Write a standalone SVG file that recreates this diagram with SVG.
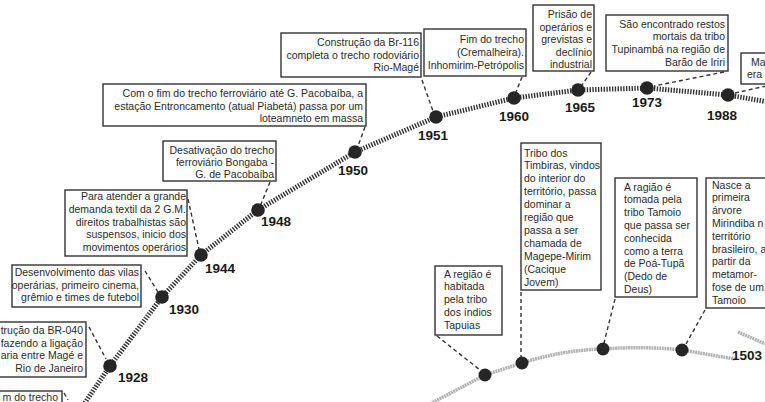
<svg xmlns="http://www.w3.org/2000/svg" width="765" height="402" viewBox="0 0 765 402">
<style>
.bg{fill:#fff}
.box{fill:#fff;stroke:#333;stroke-width:1.4}
.t{font-family:"Liberation Sans",Arial,sans-serif;font-size:10.5px;fill:#2a2a2a}
.r{text-anchor:end}
.yr{font-family:"Liberation Sans",Arial,sans-serif;font-size:13.5px;font-weight:bold;fill:#1a1a1a}
.rail{fill:none;stroke:#333;stroke-width:5;stroke-dasharray:1.4 1.4}
.grey{fill:none;stroke:#b3b3b3;stroke-width:3.5;stroke-dasharray:2 0.6}
.dash{fill:none;stroke:#333;stroke-width:1.4;stroke-dasharray:4 3}
.node{fill:#262626}
</style>
<rect class="bg" x="0" y="0" width="765" height="402"/>
<g id="connectors">
<polyline class="rail" points="80,410 110,366 162,297 201,255 258,210 355,152 436,117 514,98 578,90 647,88 728,95 768,102"/>
<path class="grey" d="M428,405 L485,375 L522,363 Q562,350 603,349 Q645,346 682,350 L735,359"/>
<path class="grey" d="M738,332 L768,345"/>
<line class="dash" x1="64" y1="393" x2="68" y2="400"/>
<line class="dash" x1="89" y1="327" x2="106" y2="359"/>
<line class="dash" x1="145" y1="271" x2="158" y2="292"/>
<line class="dash" x1="188" y1="199" x2="199" y2="249"/>
<line class="dash" x1="270" y1="182" x2="261" y2="204"/>
<line class="dash" x1="365" y1="127" x2="358" y2="146"/>
<line class="dash" x1="422" y1="80" x2="433" y2="111"/>
<line class="dash" x1="522" y1="77" x2="516" y2="92"/>
<line class="dash" x1="591" y1="72" x2="582" y2="85"/>
<line class="dash" x1="724" y1="72" x2="654" y2="86"/>
<line class="dash" x1="735" y1="93" x2="766" y2="86"/>
<line class="dash" x1="437" y1="336" x2="480" y2="370"/>
<line class="dash" x1="521" y1="292" x2="521" y2="357"/>
<line class="dash" x1="615" y1="299" x2="604" y2="343"/>
<line class="dash" x1="705" y1="310" x2="686" y2="344"/>
</g>
<g id="n-trecho">
<rect class="box" x="-5" y="391" width="67" height="20"/>
<text class="t r" x="58" y="401">m do trecho</text>
</g>
<g id="n1928">
<rect class="box" x="-5" y="322" width="91" height="55"/>
<text class="t r" x="83" y="334">trução da BR-040</text>
<text class="t r" x="83" y="346.5">fazendo a ligação</text>
<text class="t r" x="83" y="359">aria entre Magé e</text>
<text class="t r" x="83" y="371.5">Rio de Janeiro</text>
<circle class="node" cx="110" cy="366" r="6.8"/>
<text class="yr" x="118" y="382">1928</text>
</g>
<g id="n1930">
<rect class="box" x="12" y="265" width="129" height="42"/>
<text class="t r" x="139" y="276">Desenvolvimento das vilas</text>
<text class="t r" x="139" y="288.5">operárias, primeiro cinema,</text>
<text class="t r" x="139" y="301">grêmio e times de futebol</text>
<circle class="node" cx="162" cy="297" r="6.8"/>
<text class="yr" x="169" y="314">1930</text>
</g>
<g id="n1944">
<rect class="box" x="65" y="190" width="122" height="66"/>
<text class="t r" x="186" y="200">Para atender a grande</text>
<text class="t r" x="186" y="212.8">demanda textil da 2 G.M.</text>
<text class="t r" x="186" y="225.6">direitos trabalhistas são</text>
<text class="t r" x="186" y="238.4">suspensos, inicio dos</text>
<text class="t r" x="186" y="251.2">movimentos operários</text>
<circle class="node" cx="201" cy="255" r="6.8"/>
<text class="yr" x="205" y="273">1944</text>
</g>
<g id="n1948">
<rect class="box" x="163" y="141" width="113" height="40"/>
<text class="t r" x="274" y="154">Desativação do trecho</text>
<text class="t r" x="274" y="166">ferroviário Bongaba -</text>
<text class="t r" x="274" y="178">G. de Pacobaíba</text>
<circle class="node" cx="258" cy="210" r="6.8"/>
<text class="yr" x="261" y="226">1948</text>
</g>
<g id="n1950">
<rect class="box" x="103" y="84" width="263" height="42"/>
<text class="t r" x="363" y="97">Com o fim do trecho ferroviário até G. Pacobaíba, a</text>
<text class="t r" x="363" y="109.5">estação Entroncamento (atual Piabetá) passa por um</text>
<text class="t r" x="363" y="122">loteamneto em massa</text>
<circle class="node" cx="355" cy="152" r="6.8"/>
<text class="yr" x="338" y="175">1950</text>
</g>
<g id="n1951">
<rect class="box" x="281" y="33" width="140" height="44"/>
<text class="t r" x="419" y="46">Construção da Br-116</text>
<text class="t r" x="419" y="58.5">completa o trecho rodoviário</text>
<text class="t r" x="419" y="71">Rio-Magé</text>
<circle class="node" cx="436" cy="117" r="6.8"/>
<text class="yr" x="418" y="140">1951</text>
</g>
<g id="n1960">
<rect class="box" x="424" y="29" width="102" height="47"/>
<text class="t r" x="524" y="43">Fim do trecho</text>
<text class="t r" x="524" y="56">(Cremalheira).</text>
<text class="t r" x="524" y="69">Inhomirim-Petrópolis</text>
<circle class="node" cx="514" cy="98" r="6.8"/>
<text class="yr" x="499" y="121">1960</text>
</g>
<g id="n1965">
<rect class="box" x="533" y="5" width="61" height="66"/>
<text class="t r" x="592" y="18">Prisão de</text>
<text class="t r" x="592" y="30.5">operários e</text>
<text class="t r" x="592" y="43">grevistas e</text>
<text class="t r" x="592" y="55.5">declínio</text>
<text class="t r" x="592" y="68">industrial</text>
<circle class="node" cx="578" cy="90" r="6.8"/>
<text class="yr" x="565" y="112">1965</text>
</g>
<g id="n1973">
<rect class="box" x="606" y="15" width="122" height="56"/>
<text class="t r" x="725" y="27.5">São encontrado restos</text>
<text class="t r" x="725" y="40.3">mortais da tribo</text>
<text class="t r" x="725" y="53.1">Tupinambá na região de</text>
<text class="t r" x="725" y="65.9">Barão de Iriri</text>
<circle class="node" cx="647" cy="88" r="6.8"/>
<text class="yr" x="632" y="107">1973</text>
</g>
<g id="n1988">
<rect class="box" x="741" y="53" width="34" height="31"/>
<text class="t" x="751" y="66">Ma</text>
<text class="t" x="747" y="78">era</text>
<circle class="node" cx="728" cy="95" r="6.8"/>
<text class="yr" x="707" y="120">1988</text>
</g>
<g id="n-tapuias">
<rect class="box" x="435" y="266" width="67" height="69"/>
<text class="t" x="444" y="277.5">A região é</text>
<text class="t" x="444" y="290">habitada</text>
<text class="t" x="444" y="303">pela tribo</text>
<text class="t" x="444" y="316">dos índios</text>
<text class="t" x="444" y="328.5">Tapuias</text>
<circle class="node" cx="485" cy="375" r="6.5"/>
</g>
<g id="n-timbiras">
<rect class="box" x="521" y="143" width="80" height="147"/>
<text class="t" x="524" y="156.5">Tribo dos</text>
<text class="t" x="524" y="169.4">Timbiras, vindos</text>
<text class="t" x="524" y="182.3">do interior do</text>
<text class="t" x="524" y="195.2">território, passa</text>
<text class="t" x="524" y="208.1">dominar a</text>
<text class="t" x="524" y="221">região que</text>
<text class="t" x="524" y="233.9">passa a ser</text>
<text class="t" x="524" y="246.8">chamada de</text>
<text class="t" x="524" y="259.7">Magepe-Mirim</text>
<text class="t" x="524" y="272.6">(Cacique</text>
<text class="t" x="524" y="285.5">Jovem)</text>
<circle class="node" cx="522" cy="363" r="6.5"/>
</g>
<g id="n-tamoio">
<rect class="box" x="615" y="178" width="82" height="119"/>
<text class="t" x="624" y="190.5">A ragião é</text>
<text class="t" x="624" y="203.3">tomada pela</text>
<text class="t" x="624" y="216.1">tribo Tamoio</text>
<text class="t" x="624" y="228.9">que passa ser</text>
<text class="t" x="624" y="241.7">conhecida</text>
<text class="t" x="624" y="254.5">como a terra</text>
<text class="t" x="624" y="267.3">de Poá-Tupã</text>
<text class="t" x="624" y="280.1">(Dedo de</text>
<text class="t" x="624" y="292.9">Deus)</text>
<circle class="node" cx="603" cy="349" r="6.5"/>
</g>
<g id="n-mirindiba">
<rect class="box" x="706" y="178" width="70" height="130"/>
<text class="t" x="712" y="188.5">Nasce a</text>
<text class="t" x="712" y="201.3">primeira</text>
<text class="t" x="712" y="214.1">árvore</text>
<text class="t" x="712" y="226.9">Mirindiba n</text>
<text class="t" x="712" y="239.7">território</text>
<text class="t" x="712" y="252.5">brasileiro, a</text>
<text class="t" x="712" y="265.3">partir da</text>
<text class="t" x="712" y="278.1">metamor-</text>
<text class="t" x="712" y="290.9">fose de um</text>
<text class="t" x="712" y="303.7">Tamoio</text>
<circle class="node" cx="682" cy="350" r="6.5"/>
<text class="yr" x="732" y="360">1503</text>
</g>
</svg>
